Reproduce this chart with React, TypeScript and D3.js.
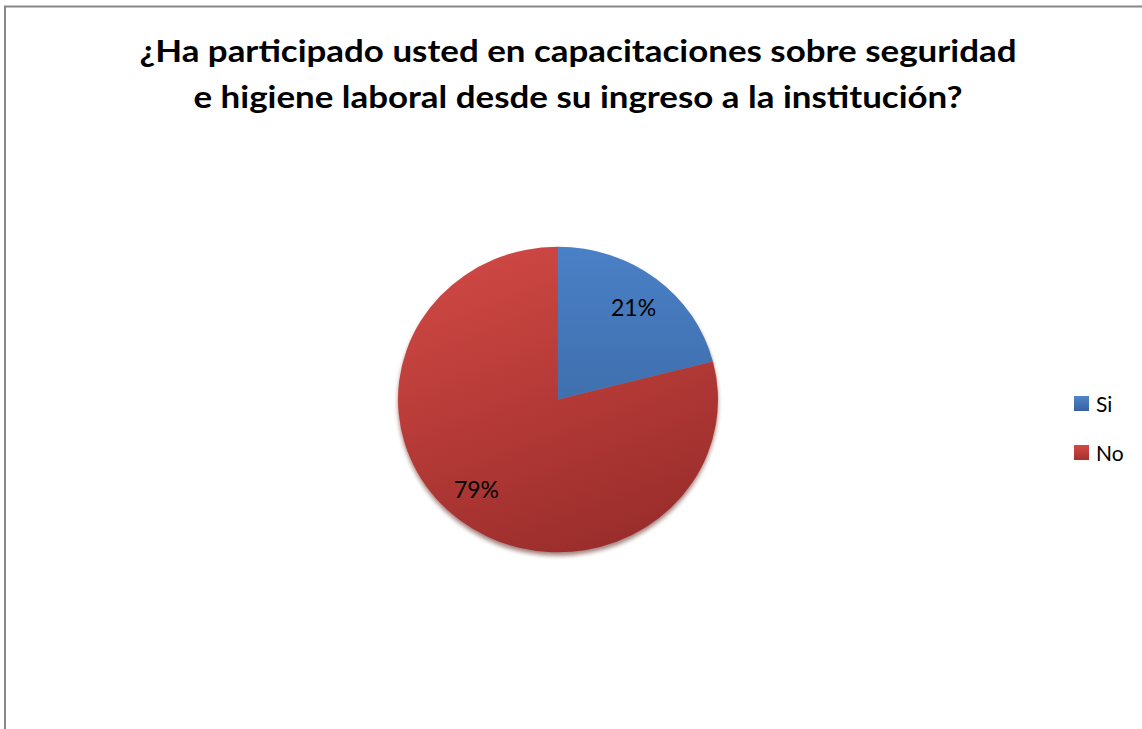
import React from "react";
import * as d3 from "d3";

const categories = ["Si", "No"];
const values = [21, 79];
const labels = ["21%", "79%"];
const titleLines = [
  "¿Ha participado usted en capacitaciones sobre seguridad",
  "e higiene laboral desde su ingreso a la institución?",
];

const W = 1142;
const H = 729;
const cx = 558;
const cy = 399.5;
const R = 160;
const sy = 0.955;

export default function App() {
  const pie = d3.pie<number>().sort(null).value((d) => d);
  const arcs = pie(values);
  const arc = d3.arc<d3.PieArcDatum<number>>().innerRadius(0).outerRadius(R);
  const labelArc = d3.arc<d3.PieArcDatum<number>>().innerRadius(R * 0.76).outerRadius(R * 0.76);
  const fills = ["url(#gBlue)", "url(#gRed)"];
  const legendFills = ["url(#lBlue)", "url(#lRed)"];
  const labelOffsets = [
    [1, -1],
    [-7, -2],
  ];

  return (
    <div style={{ position: "fixed", left: 0, top: 0, width: W, height: H, background: "#fff" }}>
      <svg width={W} height={H} style={{ display: "block" }} fontFamily="Lato, 'Open Sans', sans-serif">
        <defs>
          <linearGradient id="gBlue" gradientUnits="userSpaceOnUse" x1="0" y1={-R} x2="0" y2={R}>
            <stop offset="0" stopColor="#4a80c6" />
            <stop offset="1" stopColor="#345f97" />
          </linearGradient>
          <linearGradient id="gRed" gradientUnits="userSpaceOnUse" x1={-R * 0.5} y1={-R} x2={R * 0.3} y2={R}>
            <stop offset="0" stopColor="#cf4844" />
            <stop offset="0.5" stopColor="#b53a37" />
            <stop offset="1" stopColor="#992d2b" />
          </linearGradient>
          <linearGradient id="lBlue" x1="0" y1="0" x2="0" y2="1">
            <stop offset="0" stopColor="#4f86c9" />
            <stop offset="1" stopColor="#3761a0" />
          </linearGradient>
          <linearGradient id="lRed" x1="0" y1="0" x2="0" y2="1">
            <stop offset="0" stopColor="#d24a46" />
            <stop offset="1" stopColor="#a6302d" />
          </linearGradient>
          <filter id="shadow" x="-20%" y="-20%" width="140%" height="140%">
            <feGaussianBlur stdDeviation="2" />
          </filter>
        </defs>

        <rect x={5} y={6.5} width={W + 20} height={H + 20} fill="#fff" stroke="#878787" strokeWidth={2} />

        {titleLines.map((t, i) => (
          <text
            key={i}
            x={578}
            y={62 + i * 46}
            textAnchor="middle"
            fontSize={30}
            fontWeight="bold"
            fill="#000"
            textLength={i === 0 ? 877 : 769}
            lengthAdjust="spacingAndGlyphs"
          >
            {t}
          </text>
        ))}

        <g transform={`translate(${cx},${cy + 3.5}) scale(1,${sy})`}>
          <circle r={R} fill="#5a1a18" opacity={0.55} filter="url(#shadow)" />
        </g>
        <g transform={`translate(${cx},${cy}) scale(1,${sy})`}>
          {arcs.map((a, i) => (
            <path key={categories[i]} d={arc(a) || ""} fill={fills[i]} />
          ))}
        </g>

        {arcs.map((a, i) => {
          const [lx, ly] = labelArc.centroid(a);
          return (
            <text
              key={"l" + i}
              x={cx + lx + labelOffsets[i][0]}
              y={cy + ly * sy + labelOffsets[i][1]}
              textAnchor="middle"
              dominantBaseline="central"
              fontSize={23}
              fill="#000"
            >
              {labels[i]}
            </text>
          );
        })}

        {categories.map((c, i) => (
          <g key={"lg" + c} transform={`translate(1074,${396 + i * 49})`}>
            <rect x={0} y={0} width={15} height={15} fill={legendFills[i]} />
            <text x={22} y={7.5} dominantBaseline="central" fontSize={21} fill="#000">
              {c}
            </text>
          </g>
        ))}
      </svg>
    </div>
  );
}
